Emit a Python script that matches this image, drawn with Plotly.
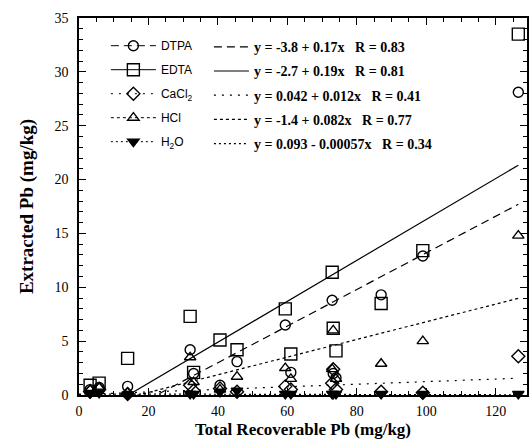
import plotly.graph_objects as go

# ---- data ----
total_pb = [3.2, 5.8, 14.0, 32.0, 33.0, 40.6, 45.5, 59.4, 61.0, 72.9, 73.2, 74.0, 87.0, 99.0, 126.5]
dtpa  = [0.5, 0.7, 0.8, 4.2, 2.0, 0.9, 3.1, 6.5, 2.1, 8.8, 2.0, 1.6, 9.3, 12.9, 28.1]
edta  = [0.9, 1.1, 3.4, 7.3, 2.1, 5.1, 4.2, 8.0, 3.8, 11.4, 6.2, 4.1, 8.5, 13.4, 33.5]
cacl2 = [0.3, 0.5, 0.1, 0.9, 0.4, 0.6, 0.3, 0.8, 0.5, 1.1, 2.4, 0.5, 0.3, 0.2, 3.6]
hcl   = [0.5, 0.7, 0.2, 3.5, 1.2, 0.5, 1.7, 2.5, 1.5, 2.4, 6.0, 1.5, 2.9, 5.0, 14.8]
h2o   = [0.2, 0.2, 0.05, 0.1, 0.1, 0.3, 0.4, 0.1, 0.1, 0.1, 0.1, 0.1, 0.1, 0.1, 0.1]

names = ["DTPA", "EDTA", "CaCl<sub>2</sub>", "HCl", "H<sub>2</sub>O"]
series = [dtpa, edta, cacl2, hcl, h2o]
intercepts = [-3.8, -2.7, 0.042, -1.4, 0.093]
slopes = [0.17, 0.19, 0.012, 0.082, -0.00057]
r_values = [0.83, 0.81, 0.41, 0.77, 0.34]
equations = [
    "y = -3.8 + 0.17x   R = 0.83",
    "y = -2.7 + 0.19x   R = 0.81",
    "y = 0.042 + 0.012x   R = 0.41",
    "y = -1.4 + 0.082x   R = 0.77",
    "y = 0.093 - 0.00057x   R = 0.34",
]
fit_x = [0.0, 126.5]

symbols = ["circle-open", "square-open", "diamond-open", "triangle-up-open", "triangle-down"]
sizes = [10, 12, 10, 10, 10]
dashes = ["8px,5px", "solid", "2px,6px", "3px,3px", "2px,3px"]

fig = go.Figure()

def with_gaps(vals):
    out = []
    for v in vals:
        out += [v, None]
    return out

serif = "Liberation Serif"
sans = "Liberation Sans"

for i in range(5):
    fig.add_trace(go.Scatter(
        x=with_gaps(total_pb), y=with_gaps(series[i]),
        mode="lines+markers", connectgaps=False,
        name=names[i], legend="legend", legendgroup="d%d" % i,
        marker=dict(symbol=symbols[i], size=sizes[i], color="black",
                    line=dict(color="black", width=1.4)),
        line=dict(color="black", width=1, dash=dashes[i]),
        cliponaxis=False,
    ))

for i in range(5):
    fy = [intercepts[i] + slopes[i] * xv for xv in fit_x]
    fig.add_trace(go.Scatter(
        x=fit_x, y=fy, mode="lines",
        name="<b>" + equations[i].replace(" ", "\u00a0") + "</b>",
        legend="legend2", legendgroup="f%d" % i,
        line=dict(color="black", width=1.2, dash=dashes[i]),
    ))

axis_common = dict(
    showline=True, linecolor="black", linewidth=1.5, mirror="ticks",
    ticks="inside", ticklen=7, tickwidth=1.2, tickcolor="black",
    showgrid=False, zeroline=False, automargin=False,
    tickfont=dict(family=serif, size=14, color="black"),
)

fig.update_layout(
    width=532, height=441,
    margin=dict(l=79, r=5, t=18, b=46),
    paper_bgcolor="white", plot_bgcolor="white",
    xaxis=dict(range=[0, 129], dtick=20, tick0=0, ticklabelstandoff=2,
               minor=dict(dtick=5, ticks="inside", ticklen=4, tickcolor="black", tickwidth=1),
               title=dict(text="<b>Total Recoverable Pb (mg/kg)</b>", font=dict(family=serif, size=17, color="black"), standoff=6),
               **axis_common),
    yaxis=dict(range=[0, 35], dtick=5, tick0=0, ticklabelstandoff=6,
               minor=dict(dtick=1, ticks="inside", ticklen=4, tickcolor="black", tickwidth=1),
               title=dict(text="<b>Extracted Pb (mg/kg)</b>", font=dict(family=serif, size=19, color="black"), standoff=16),
               **axis_common),
    legend=dict(x=0.06, y=0.965, xanchor="left", yanchor="top",
                bgcolor="rgba(0,0,0,0)", borderwidth=0, itemwidth=45,
                tracegroupgap=5, font=dict(family=sans, size=12, color="black"),
                itemclick=False),
    legend2=dict(x=0.29, y=0.965, xanchor="left", yanchor="top",
                 bgcolor="rgba(0,0,0,0)", borderwidth=0, itemwidth=35,
                 tracegroupgap=3, font=dict(family=serif, size=14, color="black"),
                 itemclick=False),
    showlegend=True,
)

fig.write_html("out.html")
